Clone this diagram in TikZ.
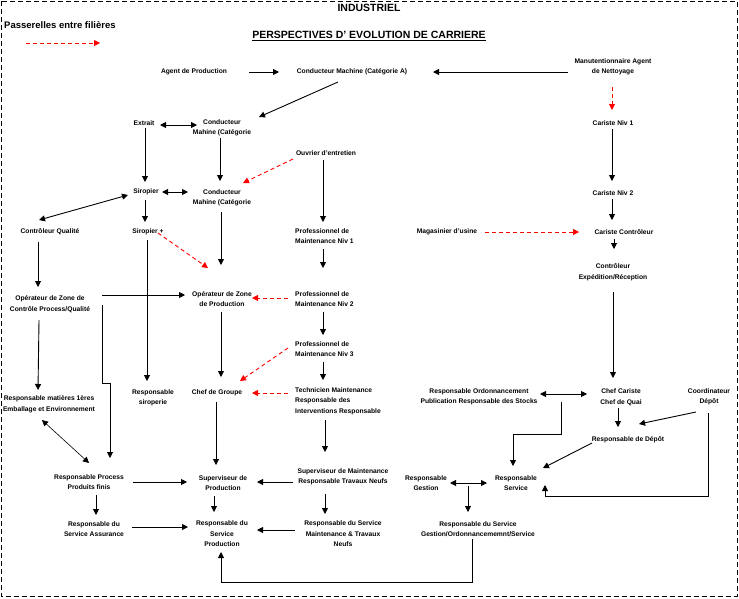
\documentclass[tikz,border=0pt]{standalone}
\usepackage{fontspec}
\setmainfont{Liberation Sans}
\usetikzlibrary{arrows.meta}
\begin{document}
\begin{tikzpicture}[x=1pt,y=-1pt,
  lbl/.style={font=\bfseries\fontsize{6.7}{10.5}\selectfont, inner sep=0pt, align=center},
  lbll/.style={lbl, align=left, anchor=west},
  big/.style={font=\bfseries\fontsize{10.5}{12}\selectfont, inner sep=0pt},
  ln/.style={line width=0.9pt},
  arr/.style={ln, -{Triangle[length=6pt,width=6pt]}},
  dbl/.style={ln, {Triangle[length=6pt,width=6pt]}-{Triangle[length=6pt,width=6pt]}},
  rarr/.style={arr, red, dash pattern=on 4pt off 3pt},
  frame/.style={line width=0.9pt, dash pattern=on 5pt off 3pt}]
\useasboundingbox (0,0) rectangle (739,598);
\draw[frame] (1,1) rectangle (737,596);

% titles and legend
\node[big] (title) at (369,7.5) {INDUSTRIEL};
\node[font=\bfseries\fontsize{9.5}{11}\selectfont, inner sep=0pt, anchor=west] (leg) at (4,25) {Passerelles entre filières};
\coordinate (lg1) at (26,43);
\coordinate (lg2) at (100,43);
\draw[rarr] (lg1) -- (lg2);
\node[big] (persp) at (369,36) {\underline{PERSPECTIVES D' EVOLUTION DE CARRIERE}};

% nodes
\node[lbl] (agent) at (194,72) {Agent de Production};
\node[lbl] (condA) at (352,72) {Conducteur Machine (Catégorie A)};
\node[lbl] (manut) at (613,67) {Manutentionnaire Agent\\de Nettoyage};
\node[lbl] (extrait) at (144,123) {Extrait};
\node[lbl] (cm1) at (222,128) {Conducteur\\Mahine (Catégorie};
\node[lbl] (ouvrier) at (326,153) {Ouvrier d'entretien};
\node[lbl] (sirop) at (146,192) {Siropier};
\node[lbl] (cm2) at (222,198) {Conducteur\\Mahine (Catégorie};
\node[lbl] (cq) at (50,232) {Contrôleur Qualité};
\node[lbl] (siropp) at (148,232) {Siropier +};
\node[lbll] (pm1) at (295,236) {Professionnel de\\Maintenance Niv 1};
\node[lbl] (mag) at (447,232) {Magasinier d'usine};
\node[lbl] (c1) at (613,123) {Cariste Niv 1};
\node[lbl] (c2) at (613,193) {Cariste Niv 2};
\node[lbl] (cc) at (624,232) {Cariste Contrôleur};
\node[lbl] (cer) at (613,272) {Contrôleur\\Expédition/Réception};
\node[lbl] (ozc) at (50,304) {Opérateur de Zone de\\Contrôle Process/Qualité};
\node[lbl] (ozp) at (222,299) {Opérateur de Zone\\de Production};
\node[lbll] (pm2) at (295,299) {Professionnel de\\Maintenance Niv 2};
\node[lbll] (pm3) at (295,349) {Professionnel de\\Maintenance Niv 3};
\node[lbl] (rm) at (49,404) {Responsable matières 1ères\\Emballage et Environnement};
\node[lbl] (rs) at (153,398) {Responsable\\siroperie};
\node[lbl] (cg) at (217,393) {Chef de Groupe};
\node[lbll] (tech) at (295,401) {Technicien Maintenance\\Responsable des\\Interventions Responsable};
\node[lbl] (ro) at (479,397) {Responsable Ordonnancement\\Publication Responsable des Stocks};
\node[lbl] (ccq) at (621,397) {Chef Cariste\\Chef de Quai};
\node[lbl] (coord) at (709,397) {Coordinateur\\Dépôt};
\node[lbl] (rd) at (628,440) {Responsable de Dépôt};
\node[lbl] (rp) at (89,482) {Responsable Process\\Produits finis};
\node[lbl] (sp) at (223,483) {Superviseur de\\Production};
\node[lbl] (sm) at (343,477) {Superviseur de Maintenance\\Responsable Travaux Neufs};
\node[lbl] (rg) at (426,483) {Responsable\\Gestion};
\node[lbl] (rsv) at (516,483) {Responsable\\Service};
\node[lbl] (rsa) at (94,529) {Responsable du\\Service Assurance};
\node[lbl] (rsp) at (222,534) {Responsable du\\Service\\Production};
\node[lbl] (rsm) at (343,534) {Responsable du Service\\Maintenance \& Travaux\\Neufs};
\node[lbl] (rsg) at (478,529) {Responsable du Service\\Gestion/Ordonnancememnt/Service};

% connectors
\draw[arr] ([shift={(55,0)}]agent.center) -- ([shift={(-73,0)}]condA.center);
\draw[arr] ([shift={(-45,5)}]manut.center) -- ([shift={(81,0)}]condA.center);
\draw[arr] ([shift={(-14,10)}]condA.center) -- ([shift={(37,-11)}]cm1.center);
\draw[dbl] ([shift={(16,2)}]extrait.center) -- ([shift={(-25,-3)}]cm1.center);
\draw[arr] ([shift={(1,5)}]extrait.center) -- ([shift={(-1,-10)}]sirop.center);
\draw[arr] ([shift={(-2,10)}]cm1.center) -- ([shift={(-2,-17)}]cm2.center);
\draw[rarr] ([shift={(-33,6)}]ouvrier.center) -- ([shift={(21,-15)}]cm2.center);
\draw[arr] ([shift={(-3,7)}]ouvrier.center) -- ([shift={(28,-14)}]pm1.west);
\draw[dbl] ([shift={(16,0)}]sirop.center) -- ([shift={(-34,-6)}]cm2.center);
\draw[dbl] ([shift={(-18,3)}]sirop.center) -- ([shift={(-11,-12)}]cq.center);
\draw[arr] ([shift={(-1,8)}]sirop.center) -- ([shift={(-3,-10)}]siropp.center);
\draw[rarr] ([shift={(10,1)}]siropp.center) -- ([shift={(-14,-31)}]ozp.center);
\draw[arr] ([shift={(-1,14)}]cm2.center) -- ([shift={(-1,-34)}]ozp.center);
\draw[arr] ([shift={(28,13)}]pm1.west) -- ([shift={(28,-31)}]pm2.west);
\draw[arr] ([shift={(-12,10)}]cq.center) -- ([shift={(-12,-17)}]ozc.center);
\draw[arr] ([shift={(-1,8)}]siropp.center) -- ([shift={(-6,-17)}]rs.center);
\draw[rarr] ([shift={(38,0)}]mag.center) -- ([shift={(-45,0)}]cc.center);
\draw[rarr] ([shift={(-1,20)}]manut.center) -- ([shift={(-1,-13)}]c1.center);
\draw[arr] ([shift={(-1,6)}]c1.center) -- ([shift={(-1,-12)}]c2.center);
\draw[arr] ([shift={(-1,6)}]c2.center) -- ([shift={(-12,-12)}]cc.center);
\draw[arr] ([shift={(-10,7)}]cc.center) -- ([shift={(1,-23)}]cer.center);
\draw[arr] ([shift={(0,20)}]cer.center) -- ([shift={(-8,-19)}]ccq.center);
\draw[arr] ([shift={(52,-9)}]ozc.center) -- ([shift={(-37,-4)}]ozp.center);
\draw[arr] ([shift={(52,1)}]ozc.center) -- ++(0,78) -- ++(8,0) -- ([shift={(21,-24)}]rp.center);
\draw[rarr] ([shift={(-7,-1)}]pm2.west) -- ([shift={(30,-1)}]ozp.center);
\draw[arr] ([shift={(28,13)}]pm2.west) -- ([shift={(28,-14)}]pm3.west);
\draw[rarr] ([shift={(-7,-1)}]pm3.west) -- ([shift={(23,-12)}]cg.center);
\draw[arr] ([shift={(-1,13)}]ozp.center) -- ([shift={(4,-16)}]cg.center);
\draw[arr] ([shift={(28,13)}]pm3.west) -- ([shift={(28,-21)}]tech.west);
\draw[rarr] ([shift={(-7,-8)}]tech.west) -- ([shift={(35,0)}]cg.center);
\draw[arr] ([shift={(-11,16)}]ozc.center) -- ([shift={(-11,-14)}]rm.center);
\draw[dbl, line width=0.6pt] ([shift={(-7,16)}]rm.center) -- ([shift={(0,-19)}]rp.center);
\draw[arr] ([shift={(-1,9)}]cg.center) -- ([shift={(-7,-18)}]sp.center);
\draw[arr] ([shift={(30,19)}]tech.west) -- ([shift={(-18,-25)}]sm.center);
\draw[arr] ([shift={(44,0)}]rp.center) -- ([shift={(-36,-1)}]sp.center);
\draw[arr] ([shift={(-50,5)}]sm.center) -- ([shift={(34,-1)}]sp.center);
\draw[arr] ([shift={(7,13)}]rp.center) -- ([shift={(2,-14)}]rsa.center);
\draw[arr] ([shift={(-9,13)}]sp.center) -- ([shift={(-8,-22)}]rsp.center);
\draw[arr] ([shift={(38,-2)}]rsa.center) -- ([shift={(-34,-7)}]rsp.center);
\draw[arr] ([shift={(-48,-4)}]rsm.center) -- ([shift={(35,-4)}]rsp.center);
\draw[arr] ([shift={(-18,17)}]sm.center) -- ([shift={(-18,-20)}]rsm.center);
\draw[arr] ([shift={(-6,10)}]rsg.center) -- ++(0,43) -| ([shift={(-1,18)}]rsp.center);
\draw[dbl] ([shift={(61,-3)}]ro.center) -- ([shift={(-34,-3)}]ccq.center);
\draw[arr] ([shift={(82,5)}]ro.center) -- ++(0,32) -| ([shift={(-3,-17)}]rsv.center);
\draw[arr] ([shift={(-3,11)}]ccq.center) -- ([shift={(-10,-13)}]rd.center);
\draw[arr] ([shift={(-13,15)}]coord.center) -- ([shift={(11,-16)}]rd.center);
\draw[arr] ([shift={(-1,16)}]coord.center) -- ++(0,83) -| ([shift={(29,2)}]rsv.center);
\draw[arr] ([shift={(-36,3)}]rd.center) -- ([shift={(27,-15)}]rsv.center);
\coordinate (jg) at (468,483);
\draw[arr] (jg) -- ([shift={(24,0)}]rg.center);
\draw[arr] (jg) -- ([shift={(-29,0)}]rsv.center);
\draw[arr] ([shift={(0,3)}]jg) -- ([shift={(-10,-17)}]rsg.center);
\end{tikzpicture}
\end{document}
